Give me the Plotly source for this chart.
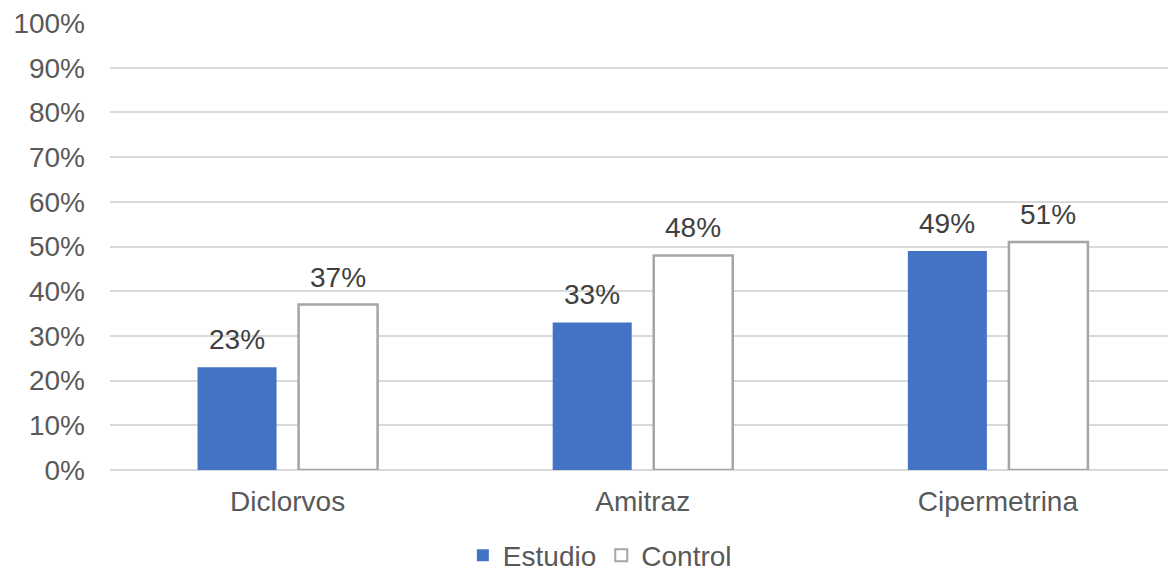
import plotly.graph_objects as go

categories = ["Diclorvos", "Amitraz", "Cipermetrina"]
estudio = [0.23, 0.33, 0.49]
control = [0.37, 0.48, 0.51]
y_ticks = [i / 10 for i in range(11)]
y_tick_labels = [f"{i*10}%" for i in range(11)]

FONT = "Liberation Sans, Arial, sans-serif"
FS = 28
BARGAP = 0.431
GROUPGAP = 0.218

fig = go.Figure()
fig.add_trace(go.Bar(
    name="Estudio", x=categories, y=estudio,
    marker=dict(color="#4472c4", line=dict(width=0)),
))
fig.add_trace(go.Bar(
    name="Control", x=categories, y=control,
    marker=dict(color="#ffffff", line=dict(color="#a5a5a5", width=2.5)),
))

# data labels above each bar
for series, shift in ((estudio, -50.5), (control, 50.5)):
    for cat, v in zip(categories, series):
        fig.add_annotation(
            x=cat, y=v, xref="x", yref="y", text=f"{round(v*100)}%",
            showarrow=False, xshift=shift, yshift=10, yanchor="bottom",
            font=dict(size=FS, color="#404040", family=FONT),
        )

fig.update_layout(
    width=1168, height=571,
    margin=dict(l=110, r=0, t=23, b=101, autoexpand=False),
    paper_bgcolor="white", plot_bgcolor="white",
    barmode="group", bargap=BARGAP, bargroupgap=GROUPGAP,
    font=dict(family=FONT, size=FS, color="#595959"),
    showlegend=True,
    legend=dict(orientation="h", x=0.463, xanchor="center",
                yref="container", y=0.027, yanchor="middle",
                font=dict(size=FS, color="#595959"), itemwidth=30,
                itemsizing="constant", traceorder="normal"),
    xaxis=dict(range=[-0.5, 2.479], showgrid=False, showline=False, ticks="",
               tickfont=dict(size=FS, color="#595959"), ticklabelstandoff=12),
    yaxis=dict(range=[0, 1], tickvals=y_ticks, ticktext=y_tick_labels,
               showgrid=True, gridcolor="#d9d9d9", gridwidth=1.5,
               zeroline=True, zerolinecolor="#d9d9d9", zerolinewidth=1.5,
               showline=False, ticks="", tickfont=dict(size=FS, color="#595959"),
               ticklabelstandoff=24),
)

fig.write_html("out.html")
